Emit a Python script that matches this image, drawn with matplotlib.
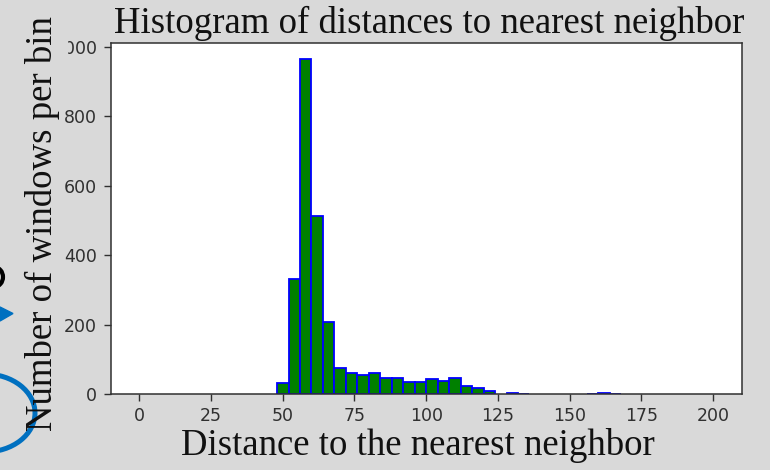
import matplotlib
matplotlib.use("Agg")
import matplotlib.pyplot as plt
import numpy as np
from matplotlib.patches import Ellipse, Polygon, Rectangle
from matplotlib.transforms import IdentityTransform

# Counts per 4-unit bin of nearest-neighbour distance, 0..200
bin_width = 4
bin_edges = np.arange(0, 200 + bin_width, bin_width)
counts = [
    0, 0, 0, 0, 0, 0, 0, 0, 0, 0, 0, 0,      # 0 - 48
    33, 331, 964, 512, 209,                   # 48 - 68
    75, 62, 56, 62, 46, 46, 36, 36,           # 68 - 100
    43, 38, 47, 24, 18, 10, 0,                # 100 - 128
    3, 2, 0, 0, 0, 0, 0,                      # 128 - 156
    2, 3, 2,                                  # 156 - 168
    0, 0, 0, 0, 0, 0, 0, 0,                   # 168 - 200
]

title = "Histogram of distances to nearest neighbor"
x_label = "Distance to the nearest neighbor"
y_label = "Number of windows per bin"

W, H = 770, 470
bg = "#d9d9d9"
serif = "Liberation Serif"

fig = plt.figure(figsize=(W / 100, H / 100), dpi=100, facecolor=bg)
ax = fig.add_axes([110.7 / W, 1 - 394.3 / H, 631 / W, 351.6 / H])

_, _, patches = ax.hist(bin_edges[:-1], bins=bin_edges, weights=counts,
                        color="green", edgecolor="blue", linewidth=1.3)
# empty bins would leave a blue line on the baseline
for p, c in zip(patches, counts):
    if c == 0:
        p.set_visible(False)

ax.set_xticks(np.arange(0, 201, 25))
ax.tick_params(labelsize=12.5, labelcolor="#303030", color="#303030",
               length=5, width=1.0)
ax.tick_params(axis="x", pad=4)
ax.tick_params(axis="y", pad=5)
for s in ax.spines.values():
    s.set_linewidth(1.1)
    s.set_color("#303030")

px = IdentityTransform()

# slide background over the left strip and the y-label box corner
fig.add_artist(Rectangle((0, 0), 62, H, transform=px, color=bg, zorder=5))
fig.add_artist(Rectangle((0, H - 56), 67, 28, transform=px, color=bg, zorder=5))

# slide decorations on the left edge
fig.add_artist(Ellipse((-15, H - 413), 100, 78, fill=False, ec="#0070c0",
                       lw=3.6, transform=px, zorder=6))
fig.add_artist(Polygon([(0, H - 307), (13, H - 313.5), (0, H - 321)],
                       closed=True, color="#0070c0", transform=px, zorder=6))
fig.add_artist(Ellipse((-5, H - 277), 16, 19, fill=False, ec="black",
                       lw=3.0, transform=px, zorder=6))

fig.text(429.5 / W, 1 - 33 / H, title, ha="center", va="baseline",
         fontsize=26.5, family=serif, color="#111111", zorder=10)
fig.text(417.5 / W, 1 - 455 / H, x_label, ha="center", va="baseline",
         fontsize=26.5, family=serif, color="#111111", zorder=10)
fig.text(52 / W, 1 - 223.5 / H, y_label, ha="center", va="baseline",
         rotation=90, rotation_mode="anchor",
         fontsize=26.5, family=serif, color="#111111", zorder=10)

fig.savefig("out.png", dpi=100, facecolor=bg)
